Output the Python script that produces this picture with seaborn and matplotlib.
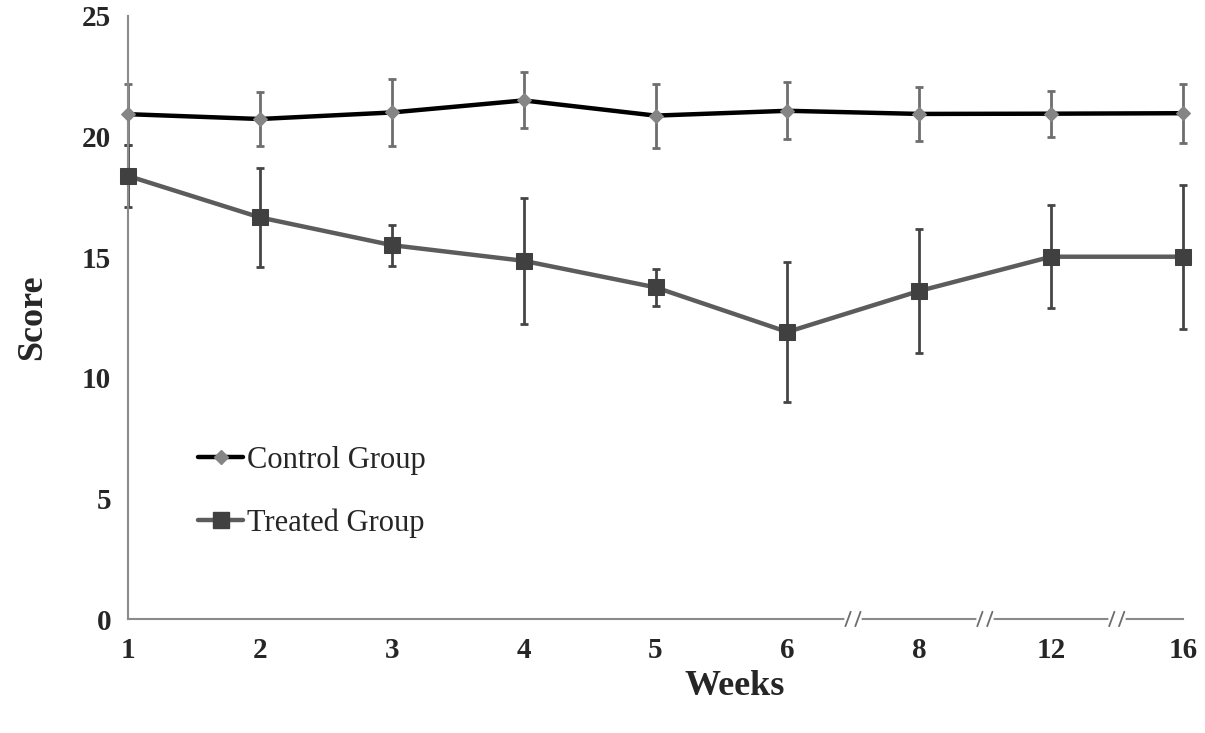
import numpy as np
import pandas as pd
import matplotlib
matplotlib.use("Agg")
import matplotlib.pyplot as plt
import matplotlib.transforms as mtransforms
from matplotlib.lines import Line2D
import seaborn as sns

weeks = ["1", "2", "3", "4", "5", "6", "8", "12", "16"]
control_mean = [20.93, 20.73, 21.0, 21.5, 20.87, 21.07, 20.94, 20.95, 20.97]
control_err = [1.27, 1.12, 1.4, 1.16, 1.33, 1.18, 1.13, 0.96, 1.23]
treated_mean = [18.37, 16.65, 15.5, 14.85, 13.75, 11.9, 13.6, 15.02, 15.02]
treated_err = [1.3, 2.05, 0.85, 2.6, 0.76, 2.9, 2.58, 2.13, 2.99]
series_names = ["Control Group", "Treated Group"]

sns.set_theme(style="white")
plt.rcParams["font.family"] = ["Liberation Serif", "DejaVu Serif"]

pos = np.arange(len(weeks))
df = pd.DataFrame({
    "pos": np.concatenate([pos, pos]),
    "score": control_mean + treated_mean,
    "group": [series_names[0]] * len(weeks) + [series_names[1]] * len(weeks),
})

fig = plt.figure(figsize=(12.05, 7.33), dpi=100)
ax = fig.add_axes([128 / 1205, 1 - 619 / 733, (1183 - 128) / 1205, (619 - 16) / 733])

ctrl_line = "#000000"
ctrl_mark = "#858585"
trt_line = "#5c5c5c"
trt_mark = "#404040"

# error bars
ax.errorbar(pos, control_mean, yerr=control_err, fmt="none", ecolor="#6e6e6e",
            elinewidth=2, capsize=3, capthick=2, zorder=2, clip_on=False)
ax.errorbar(pos, treated_mean, yerr=treated_err, fmt="none", ecolor="#454545",
            elinewidth=2, capsize=3, capthick=2, zorder=2, clip_on=False)

sns.lineplot(data=df[df.group == series_names[0]], x="pos", y="score", ax=ax,
             color=ctrl_line, linewidth=3.2, marker="D", markersize=7.5,
             markerfacecolor=ctrl_mark, markeredgecolor=ctrl_mark, legend=False,
             zorder=4, clip_on=False)
sns.lineplot(data=df[df.group == series_names[1]], x="pos", y="score", ax=ax,
             color=trt_line, linewidth=3.2, marker="s", markersize=11,
             markerfacecolor=trt_mark, markeredgecolor=trt_mark, legend=False,
             zorder=3, clip_on=False)

ax.set_xlim(0, len(weeks) - 1)
ax.set_ylim(0, 25)
ax.set_xticks(pos)
ax.set_xticklabels(weeks)
ax.set_yticks([0, 5, 10, 15, 20, 25])

for s in ["top", "right"]:
    ax.spines[s].set_visible(False)
for s in ["left", "bottom"]:
    ax.spines[s].set_color("#8a8a8a")
    ax.spines[s].set_linewidth(1.5)

ax.tick_params(axis="both", which="major", direction="out", length=5, width=1.5,
               color="#8a8a8a", labelsize=21, pad=7)
for lab in ax.get_xticklabels() + ax.get_yticklabels():
    lab.set_fontweight("bold")
ax.tick_params(axis="x", pad=8)

ax.set_xlabel("Weeks", fontsize=26, fontweight="bold")
ax.xaxis.set_label_coords(0.575, -0.112)
ax.xaxis.label.set_va("center")
ax.set_ylabel("Score", fontsize=26, fontweight="bold")
ax.yaxis.set_label_coords(-0.09, 0.5)
ax.yaxis.label.set_va("center")

# axis breaks
trans = mtransforms.blended_transform_factory(ax.transData, ax.transAxes)
for b in [5.5, 6.5, 7.5]:
    ax.plot([b - 0.045, b + 0.045], [0, 0], color="white", linewidth=4,
            transform=trans, clip_on=False, zorder=10)
    for dx in (-0.04, 0.035):
        ax.plot([b + dx - 0.02, b + dx + 0.02], [-0.012, 0.012], color="#6e6e6e",
                linewidth=1.3, transform=trans, clip_on=False, zorder=11)

handles = [
    Line2D([0], [0], color=ctrl_line, linewidth=3.2, marker="D", markersize=7.5,
           markerfacecolor=ctrl_mark, markeredgecolor=ctrl_mark),
    Line2D([0], [0], color=trt_line, linewidth=3.2, marker="s", markersize=11,
           markerfacecolor=trt_mark, markeredgecolor=trt_mark),
]
ax.legend(handles, series_names, loc="upper left", bbox_to_anchor=(0.066, 0.287),
          frameon=False, fontsize=22, handlelength=1.5, handletextpad=0.1,
          labelspacing=1.1, borderaxespad=0, borderpad=0)

fig.savefig("out.png", dpi=100)
